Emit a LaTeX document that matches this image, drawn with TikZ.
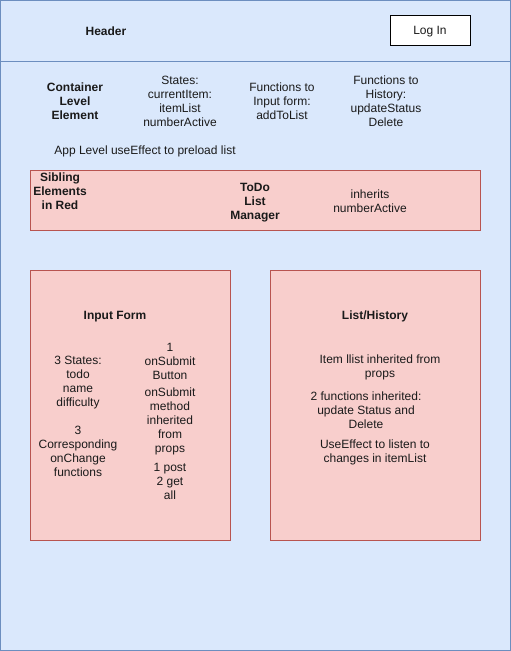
\documentclass[tikz,border=0pt]{standalone}
\usepackage{fontspec}
\setmainfont{Liberation Sans}
\usetikzlibrary{positioning}
\definecolor{skyfill}{HTML}{DAE8FC}
\definecolor{skyline}{HTML}{6C8EBF}
\definecolor{rosefill}{HTML}{F8CECC}
\definecolor{roseline}{HTML}{B85450}
\definecolor{ink}{HTML}{1A1A1A}
\tikzset{
  pane/.style={fill=skyfill,draw=skyline,line width=1pt},
  sibling/.style={fill=rosefill,draw=roseline,line width=1pt},
  txt/.style={font=\fontsize{12}{14}\selectfont,text=ink,align=center,inner sep=0pt,yshift=-1.7pt},
  bold txt/.style={txt,font=\fontsize{12}{14}\selectfont\bfseries}
}
\begin{document}
\begin{tikzpicture}[x=1pt,y=-1pt]
        \useasboundingbox (0,0) rectangle (511,651);
        % outer frame
        \draw[pane] (0.5,0.5) rectangle (510.5,61);
        \draw[pane] (0.5,61) rectangle (510.5,650.5);
        \node[bold txt] (header) at (106,30) {Header};
        \node[draw=black,fill=white,line width=1pt,minimum width=80pt,minimum height=30pt] (login) at (430,30) {};
        \node[txt] (logintxt) at (login.center) {Log In};
        % container level
        \node[bold txt] (cont) at (75,100) {Container\\Level\\Element};
        \node[txt] (states) at (180,100) {States:\\currentItem:\\itemList\\numberActive};
        \node[txt] (toform) at (282,100) {Functions to\\Input form:\\addToList};
        \node[txt] (tohist) at (386,100) {Functions to\\History:\\updateStatus\\Delete};
        \node[txt] (effect) at (145,150) {App Level useEffect to preload list};
        % todo list manager
        \draw[sibling] (30,170) rectangle (480,230);
        \node[bold txt] (note) at (60,190) {Sibling\\Elements\\in Red};
        \node[bold txt] (manager) at (255,201) {ToDo\\List\\Manager};
        \node[txt] (inherit) at (370,200) {inherits\\numberActive};
        % input form
        \draw[sibling] (30,270) rectangle (230,540);
        \node[bold txt] (form) at (115,315) {Input Form};
        \node[txt] (fstates) at (78,381) {3 States:\\todo\\name\\difficulty};
        \node[txt] (fchange) at (78,450) {3\\Corresponding\\onChange\\functions};
        \node[txt] (fbutton) at (170,360) {1\\onSubmit\\Button};
        \node[txt] (fmethod) at (170,420) {onSubmit\\method\\inherited\\from\\props};
        \node[txt] (fcalls) at (170,480) {1 post\\2 get\\all};
        % list/history
        \draw[sibling] (270,270) rectangle (480,540);
        \node[bold txt] (hist) at (375,315) {List/History};
        \node[txt] (hlist) at (380,366) {Item llist inherited from\\props};
        \node[txt] (hfuncs) at (366,409) {2 functions inherited:\\update Status and\\Delete};
        \node[txt] (heffect) at (375,451) {UseEffect to listen to\\changes in itemList};
      \end{tikzpicture}
\end{document}
